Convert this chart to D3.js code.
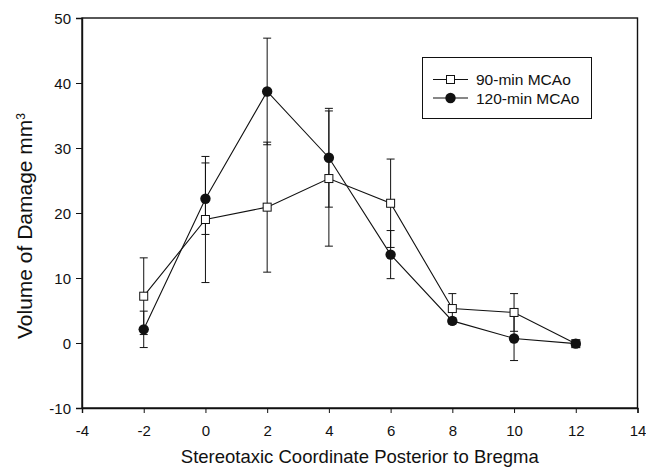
<!DOCTYPE html>
<html>
<head>
<meta charset="utf-8">
<script src="https://cdn.jsdelivr.net/npm/d3@7"></script>
<style>
  body { margin: 0; background: white; }
  svg { font-family: "Liberation Sans", Arial, sans-serif; }
</style>
</head>
<body>
<svg width="646" height="473"></svg>
<script>
// stereotaxic coordinate (mm posterior to bregma)
var coords = [-2, 0, 2, 4, 6, 8, 10, 12];

// volume of damage, mm3
var mcao90 = [7.2, 19.0, 20.9, 25.3, 21.5, 5.3, 4.7, -0.1];
var err90 = [5.9, 9.7, 10.0, 10.4, 6.8, 2.3, 2.9, 0];
var mcao120 = [2.1, 22.2, 38.7, 28.5, 13.6, 3.4, 0.7, -0.1];
var err120 = [2.8, 5.5, 8.2, 7.6, 3.7, 0.5, 3.4, 0];

var xTicks = [-4, -2, 0, 2, 4, 6, 8, 10, 12, 14];
var yTicks = [-10, 0, 10, 20, 30, 40, 50];

var seriesNames = ["90-min MCAo", "120-min MCAo"];

var svg = d3.select("svg");
var W = 646, H = 473;
var margin = {top: 18, right: 8.5, bottom: 65, left: 82};

var x = d3.scaleLinear().domain([-4, 14]).range([margin.left, W - margin.right]);
var y = d3.scaleLinear().domain([-10, 50]).range([H - margin.bottom, margin.top]);

// plain hyphen for negatives, like the original
var fmt = function (d) { return String(d); };

// frame
svg.append("rect")
  .attr("x", x(-4)).attr("y", y(50))
  .attr("width", x(14) - x(-4)).attr("height", y(-10) - y(50))
  .attr("fill", "none").attr("stroke", "#111").attr("stroke-width", 1.4);

var xAxis = svg.append("g")
  .attr("transform", "translate(0," + y(-10) + ")")
  .call(d3.axisBottom(x).tickValues(xTicks).tickSize(5).tickPadding(12).tickFormat(fmt));
var yAxis = svg.append("g")
  .attr("transform", "translate(" + x(-4) + ",0)")
  .call(d3.axisLeft(y).tickValues(yTicks).tickSize(6).tickPadding(5).tickFormat(fmt));

[xAxis, yAxis].forEach(function (g) {
  g.select(".domain").attr("stroke", "#111").attr("stroke-width", 1.4);
  g.selectAll(".tick line").attr("stroke", "#111").attr("stroke-width", 1);
  g.selectAll(".tick text")
    .attr("fill", "#111")
    .style("font-size", "15px")
    .style("font-family", "'Liberation Sans', Arial, sans-serif");
});
yAxis.selectAll(".tick text").attr("dy", "0.36em");

// axis titles
svg.append("text")
  .attr("x", (x(-4) + x(14)) / 2).attr("y", 463)
  .attr("text-anchor", "middle")
  .style("font-size", "18.5px").attr("fill", "#111")
  .text("Stereotaxic Coordinate Posterior to Bregma");

var yt = svg.append("text")
  .attr("transform", "translate(32,226) rotate(-90)")
  .attr("text-anchor", "middle")
  .style("font-size", "21px").attr("fill", "#111");
yt.append("tspan").text("Volume of Damage mm");
yt.append("tspan").attr("dy", "-0.55em").style("font-size", "12px").text("3");

var data90 = coords.map(function (c, i) { return {x: c, y: mcao90[i], e: err90[i]}; });
var data120 = coords.map(function (c, i) { return {x: c, y: mcao120[i], e: err120[i]}; });

var line = d3.line().x(function (d) { return x(d.x); }).y(function (d) { return y(d.y); });

function errorBars(data) {
  var g = svg.append("g").attr("stroke", "#111").attr("stroke-width", 1);
  data.filter(function (d) { return d.e > 0; }).forEach(function (d) {
    var cx = x(d.x);
    g.append("line").attr("x1", cx).attr("x2", cx).attr("y1", y(d.y - d.e)).attr("y2", y(d.y + d.e));
    g.append("line").attr("x1", cx - 4).attr("x2", cx + 4).attr("y1", y(d.y - d.e)).attr("y2", y(d.y - d.e));
    g.append("line").attr("x1", cx - 4).attr("x2", cx + 4).attr("y1", y(d.y + d.e)).attr("y2", y(d.y + d.e));
  });
}

errorBars(data90);
errorBars(data120);

svg.append("path").datum(data90).attr("d", line)
  .attr("fill", "none").attr("stroke", "#111").attr("stroke-width", 1.1);
svg.append("path").datum(data120).attr("d", line)
  .attr("fill", "none").attr("stroke", "#111").attr("stroke-width", 1.1);

svg.selectAll(".sq").data(data90).enter().append("rect")
  .attr("class", "sq")
  .attr("x", function (d) { return x(d.x) - 4; })
  .attr("y", function (d) { return y(d.y) - 4; })
  .attr("width", 8).attr("height", 8)
  .attr("fill", "white").attr("stroke", "#111").attr("stroke-width", 1);

svg.selectAll(".dot").data(data120).enter().append("circle")
  .attr("class", "dot")
  .attr("cx", function (d) { return x(d.x); })
  .attr("cy", function (d) { return y(d.y); })
  .attr("r", 5.2)
  .attr("fill", "#111");

// legend
var leg = svg.append("g");
leg.append("rect")
  .attr("x", 422.5).attr("y", 57.5).attr("width", 169).attr("height", 61)
  .attr("fill", "white").attr("stroke", "#111").attr("stroke-width", 1);
var rows = [79.5, 98];
seriesNames.forEach(function (name, i) {
  var ry = rows[i];
  leg.append("line").attr("x1", 433).attr("x2", 468).attr("y1", ry).attr("y2", ry)
    .attr("stroke", "#111").attr("stroke-width", 1.1);
  if (i === 0) {
    leg.append("rect").attr("x", 446.5).attr("y", ry - 4).attr("width", 8).attr("height", 8)
      .attr("fill", "white").attr("stroke", "#111");
  } else {
    leg.append("circle").attr("cx", 450.5).attr("cy", ry).attr("r", 5.2).attr("fill", "#111");
  }
  leg.append("text").attr("x", 476).attr("y", ry).attr("dy", "0.36em")
    .style("font-size", "15.5px").attr("fill", "#111").text(name);
});
</script>
</body>
</html>
